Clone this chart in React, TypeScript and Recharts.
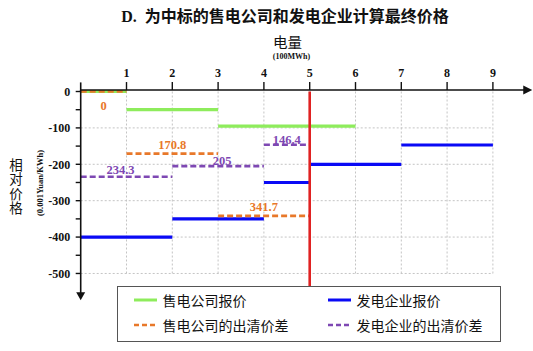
import React from "react";
import { ComposedChart, Line, XAxis, YAxis, ReferenceLine, ReferenceDot } from "recharts";

// ---- data ----
const xTicks = [1, 2, 3, 4, 5, 6, 7, 8, 9];
const yTicks = [0, -50, -100, -150, -200, -250, -300, -350, -400, -450, -500];
const gridX = [1, 2, 3, 4, 5, 6, 7, 8, 9];
const gridY = [-100, -200, -300, -400, -500];

type Seg = { from: number; to: number; value: number };
const sellerBid: Seg[] = [
  { from: 0, to: 1, value: 0 },
  { from: 1, to: 3, value: -50 },
  { from: 3, to: 6, value: -95 },
];
const generatorBid: Seg[] = [
  { from: 0, to: 2, value: -400 },
  { from: 2, to: 4, value: -350 },
  { from: 4, to: 5, value: -250 },
  { from: 5, to: 7, value: -200 },
  { from: 7, to: 9, value: -147 },
];
const sellerSpread: Seg[] = [
  { from: 0, to: 1, value: 0 },
  { from: 1, to: 3, value: -170.8 },
  { from: 3, to: 5, value: -341.7 },
];
const generatorSpread: Seg[] = [
  { from: 0, to: 2, value: -234.3 },
  { from: 2, to: 4, value: -205 },
  { from: 4, to: 5, value: -146.4 },
];
const clearingQuantity = 5;

const seriesNames = ["售电公司报价", "发电企业报价", "售电公司的出清价差", "发电企业的出清价差"];
const title = "D.  为中标的售电公司和发电企业计算最终价格";
const xTitle = "电量";
const xUnit = "(100MWh)";
const yTitle = "相对价格";
const yUnit = "(0.001Yuan/KWh)";

// ---- style ----
const X_MAX = 9.75;
const Y_MIN = -560;
const Y_TOP = 4;
const GREEN = "#8EEC5C";
const BLUE = "#0A0AF5";
const ORANGE = "#E8782A";
const PURPLE = "#7E48B3";
const RED = "#E02222";
const SERIF = "'Liberation Serif', 'Times New Roman', serif";
const CJK = "'Noto Sans CJK SC', sans-serif";
const sellerLabelOffsets = [{ dx: 0, dy: 14 }, { dx: 0, dy: -9 }, { dx: 0, dy: -9 }];
const generatorLabelOffsets = [{ dx: -6, dy: -7 }, { dx: 4, dy: -5 }, { dx: 0, dy: -4.5 }];

function toLineData(segs: Seg[]) {
  const out: { x: number; y: number | null }[] = [];
  segs.forEach((s) => {
    out.push({ x: s.from, y: s.value });
    out.push({ x: s.to, y: s.value });
    out.push({ x: s.to, y: null });
  });
  return out;
}

function labelShape(text: string, color: string, dx: number, dy: number) {
  return (props: any) => (
    <text
      x={props.cx + dx}
      y={props.cy + dy + 4.2}
      textAnchor="middle"
      fontFamily={SERIF}
      fontWeight="bold"
      fontSize={12.5}
      fill={color}
    >
      {text}
    </text>
  );
}

const fmt = (v: number) => String(Math.abs(v));

export default function App() {
  const gridStyle = { stroke: "#c4c4c4", strokeDasharray: "2 2", strokeWidth: 1 };
  return (
    <div style={{ position: "absolute", left: 0, top: 0, width: 533, height: 351, background: "#fff" }}>
      <ComposedChart
        width={533}
        height={351}
        margin={{ top: 69.55, right: 5.75, bottom: 55.7, left: 0 }}
      >
        <XAxis
          type="number"
          dataKey="x"
          orientation="top"
          domain={[0, X_MAX]}
          ticks={xTicks}
          allowDataOverflow
          height={20.5}
          tickSize={8}
          tickMargin={5}
          axisLine={{ stroke: "#111", strokeWidth: 1.6 }}
          tickLine={{ stroke: "#111", strokeWidth: 1.4 }}
          tick={{ fontFamily: SERIF, fontWeight: "bold", fontSize: 12, fill: "#111" }}
        />
        <YAxis
          type="number"
          domain={[Y_MIN, Y_TOP]}
          ticks={yTicks}
          allowDataOverflow
          width={80.7}
          tickSize={5}
          tickMargin={5.5}
          tickFormatter={(v: number) => (v % 100 === 0 ? String(v) : "")}
          axisLine={{ stroke: "#111", strokeWidth: 1.6 }}
          tickLine={{ stroke: "#111", strokeWidth: 1.4 }}
          tick={{ fontFamily: SERIF, fontWeight: "bold", fontSize: 12, fill: "#111" }}
        />
        {gridY.map((g) => (
          <ReferenceLine key={"gy" + g} segment={[{ x: 0, y: g }, { x: 9, y: g }]} {...gridStyle} ifOverflow="visible" />
        ))}
        {gridX.map((g) => (
          <ReferenceLine key={"gx" + g} segment={[{ x: g, y: 0 }, { x: g, y: -500 }]} {...gridStyle} ifOverflow="visible" />
        ))}
        <ReferenceLine segment={[{ x: 0, y: 0 }, { x: 0, y: 25 }]} stroke="#111" strokeWidth={1.6} ifOverflow="visible" />
        <Line data={toLineData(sellerBid)} dataKey="y" stroke={GREEN} strokeWidth={3.2} dot={false} activeDot={false} isAnimationActive={false} connectNulls={false} />
        <Line data={toLineData(generatorBid)} dataKey="y" stroke={BLUE} strokeWidth={3.2} dot={false} activeDot={false} isAnimationActive={false} connectNulls={false} />
        <Line data={toLineData(sellerSpread)} dataKey="y" stroke={ORANGE} strokeWidth={2.6} strokeDasharray="6 3" dot={false} activeDot={false} isAnimationActive={false} connectNulls={false} />
        <Line data={toLineData(generatorSpread)} dataKey="y" stroke={PURPLE} strokeWidth={2.6} strokeDasharray="6 3" dot={false} activeDot={false} isAnimationActive={false} connectNulls={false} />
        <ReferenceLine segment={[{ x: clearingQuantity, y: 0 }, { x: clearingQuantity, y: -535 }]} stroke={RED} strokeWidth={2.6} ifOverflow="visible" />
        {sellerSpread.map((s, i) => (
          <ReferenceDot key={"sl" + i} x={(s.from + s.to) / 2} y={s.value} r={0} ifOverflow="visible"
            shape={labelShape(fmt(s.value), ORANGE, sellerLabelOffsets[i].dx, sellerLabelOffsets[i].dy)} />
        ))}
        {generatorSpread.map((s, i) => (
          <ReferenceDot key={"gl" + i} x={(s.from + s.to) / 2} y={s.value} r={0} ifOverflow="visible"
            shape={labelShape(fmt(s.value), PURPLE, generatorLabelOffsets[i].dx, generatorLabelOffsets[i].dy)} />
        ))}
        <ReferenceDot x={X_MAX} y={Y_TOP} r={0} ifOverflow="visible"
          shape={(p: any) => <polygon points={`${p.cx - 4},${p.cy - 4.5} ${p.cx + 5},${p.cy} ${p.cx - 4},${p.cy + 4.5}`} fill="#111" />} />
        <ReferenceDot x={0} y={Y_MIN} r={0} ifOverflow="visible"
          shape={(p: any) => <polygon points={`${p.cx - 4.5},${p.cy - 3} ${p.cx + 4.5},${p.cy - 3} ${p.cx},${p.cy + 5}`} fill="#111" />} />
      </ComposedChart>

      {/* title */}
      <div style={{ position: "absolute", left: 0, width: 570, top: 5, textAlign: "center", fontFamily: CJK, fontWeight: 700, fontSize: 16, lineHeight: "20px", color: "#111", whiteSpace: "pre" }}>
        <span style={{ fontFamily: SERIF }}>{title.slice(0, 4)}</span>{title.slice(4)}
      </div>
      {/* x axis title */}
      <div style={{ position: "absolute", left: 237.5, width: 100, top: 33, textAlign: "center", fontFamily: CJK, fontSize: 14.5, lineHeight: "18px", color: "#111" }}>{xTitle}</div>
      <div style={{ position: "absolute", left: 241.5, width: 100, top: 52, textAlign: "center", fontFamily: SERIF, fontWeight: "bold", fontSize: 8, lineHeight: "10px", color: "#111" }}>{xUnit}</div>
      {/* y axis title */}
      <div style={{ position: "absolute", left: 7, top: 158, width: 18, writingMode: "vertical-rl", textOrientation: "upright", letterSpacing: "1px", lineHeight: "18px", fontFamily: CJK, fontSize: 13.5, color: "#111", whiteSpace: "nowrap" }}>
        {yTitle}
      </div>
      <div style={{ position: "absolute", left: 0, top: 178, width: 80, textAlign: "center", fontFamily: SERIF, fontWeight: "bold", fontSize: 8.5, lineHeight: "10px", color: "#111", transform: "rotate(-90deg)", whiteSpace: "nowrap" }}>{yUnit}</div>

      {/* legend */}
      <div style={{ position: "absolute", left: 116.5, top: 286, width: 382, height: 54, border: "1px solid #555", background: "#fff", fontFamily: CJK, fontSize: 14, color: "#111" }}>
        {[0, 1, 2, 3].map((i) => {
          const col = i % 2;
          const row = Math.floor(i / 2);
          const colors = [GREEN, BLUE, ORANGE, PURPLE];
          const dashed = i >= 2;
          const left = col === 0 ? 16 : 210;
          const top = row === 0 ? 13.3 : 38.3;
          return (
            <div key={i} style={{ position: "absolute", left, top: top - 10, height: 20, display: "flex", alignItems: "center", whiteSpace: "nowrap" }}>
              <svg width={24} height={6} style={{ marginRight: 5 }}>
                <line x1={0} y1={3} x2={23} y2={3} stroke={colors[i]} strokeWidth={dashed ? 2.4 : 3} strokeDasharray={dashed ? "5 3" : undefined} />
              </svg>
              <span>{seriesNames[i]}</span>
            </div>
          );
        })}
      </div>
    </div>
  );
}
